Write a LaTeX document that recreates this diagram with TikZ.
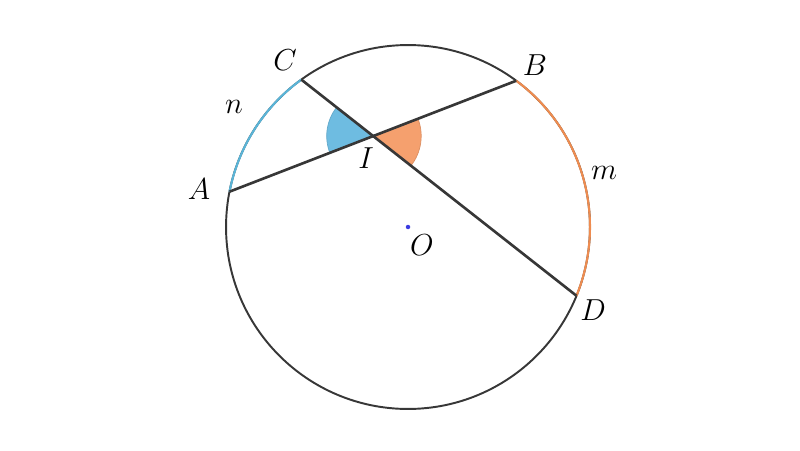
\documentclass[tikz,border=0pt]{standalone}
\usetikzlibrary{angles,calc}
\definecolor{circ}{RGB}{55,55,55}
\definecolor{arcblue}{RGB}{90,180,215}
\definecolor{arcorange}{RGB}{238,140,80}
\definecolor{fillblue}{RGB}{110,188,225}
\definecolor{fillorange}{RGB}{245,160,110}
\definecolor{dotblue}{RGB}{60,60,225}
\tikzset{
  lbl/.style={font=\fontsize{17}{20}\selectfont, inner sep=0pt},
  chord/.style={draw=circ, line width=1.5pt},
  rim/.style={draw=circ, line width=1.1pt},
}
\begin{document}
\begin{tikzpicture}[x=0.02cm,y=0.02cm]
\useasboundingbox (0,0) rectangle (800,450);
\coordinate (O) at (408,223);
\coordinate (C) at ([shift={(125.9:3.64cm)}]O);
\coordinate (B) at ([shift={(53.5:3.64cm)}]O);
\coordinate (A) at ([shift={(168.8:3.64cm)}]O);
\coordinate (D) at ([shift={(-22.2:3.64cm)}]O);
\coordinate (I) at (intersection of A--B and C--D);
% angle sectors
\pic[fill=fillblue, draw=fillblue!90!black, line width=0.4pt, angle radius=0.93cm] {angle=C--I--A};
\pic[fill=fillorange, draw=fillorange!90!black, line width=0.4pt, angle radius=0.96cm] {angle=D--I--B};
% circle
\draw[rim] (O) circle[radius=3.64cm];
\draw[draw=arcblue, line width=1.2pt] (C) arc[start angle=125.9, end angle=168.8, radius=3.64cm];
\draw[draw=arcorange, line width=1.2pt] (B) arc[start angle=53.5, end angle=-22.2, radius=3.64cm];
% chords
\draw[chord] (A) -- (B);
\draw[chord] (C) -- (D);
% center
\fill[dotblue] (O) circle[radius=0.045cm];
% labels
\node[lbl] (lC) at (285,390) {$C$};
\node[lbl] (lB) at (535,385) {$B$};
\node[lbl] (ln) at (234,343) {$n$};
\node[lbl] (lA) at (199,261) {$A$};
\node[lbl] (lI) at (366,292) {$I$};
\node[lbl] (lO) at (422,205) {$O$};
\node[lbl] (lm) at (604,277) {$m$};
\node[lbl] (lD) at (593,140) {$D$};
\end{tikzpicture}
\end{document}
